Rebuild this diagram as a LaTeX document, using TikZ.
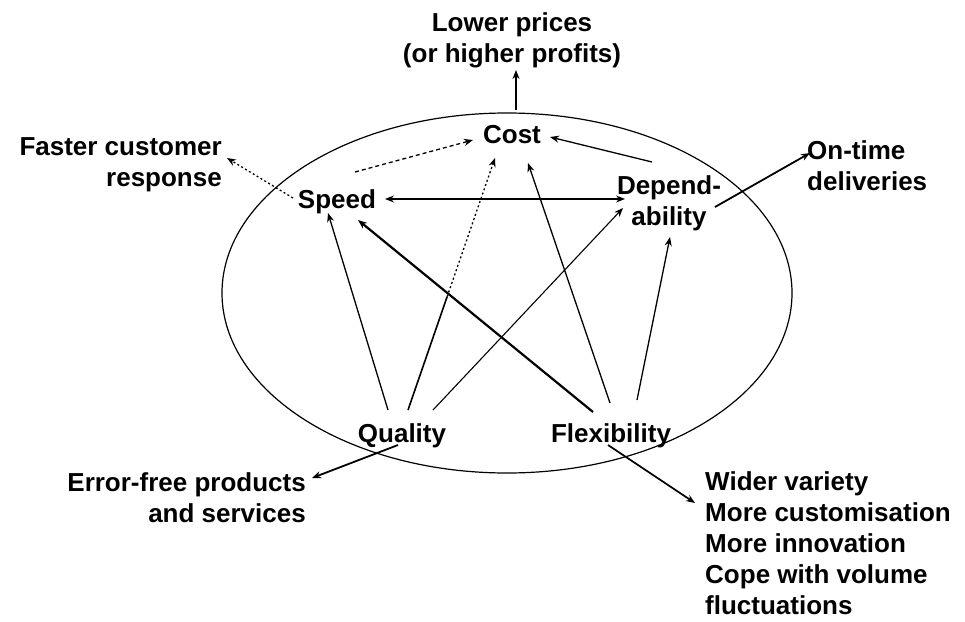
\documentclass[tikz,border=0pt]{standalone}
\usepackage{fontspec}
\setmainfont{Liberation Sans}
\usetikzlibrary{arrows.meta,calc}
\tikzset{
  lbl/.style={inner sep=0pt,font=\fontsize{26}{31}\selectfont\bfseries},
  ln/.style={line width=1.3pt},
  arr/.style={ln,-{Stealth[length=9pt,width=7pt]}},
  darr/.style={ln,{Stealth[length=9pt,width=7pt]}-{Stealth[length=9pt,width=7pt]}},
  dotarr/.style={arr,dash pattern=on 2pt off 2.5pt},
  thickarr/.style={arr,line width=2.2pt},
  medarr/.style={arr,line width=1.8pt}
}
\begin{document}
\begin{tikzpicture}[x=1pt,y=-1pt]
\useasboundingbox (0,0) rectangle (965,621);
\fill[white] (0,0) rectangle (965,621);
% ellipse
\draw[line width=1.2pt] (507,293) ellipse [x radius=285, y radius=180];
% nodes
\node[lbl,anchor=north,align=center] (low) at (512,12) {Lower prices\\(or higher profits)};
\node[lbl,anchor=base] (cost) at (512,143) {Cost};
\node[lbl,anchor=base] (spd) at (337,208) {Speed};
\node[lbl,anchor=north,align=center] (dep) at (669,175) {Depend-\\ability};
\node[lbl,anchor=north west,align=left] (ont) at (807,140) {On-time\\deliveries};
\node[lbl,anchor=north east,align=right] (fast) at (222,137) {Faster customer\\response};
\node[lbl,anchor=base] (qual) at (402,442) {Quality};
\node[lbl,anchor=base] (flex) at (611,442) {Flexibility};
\node[lbl,anchor=north east,align=right] (err) at (306,472) {Error-free products\\and services};
\node[lbl,anchor=north west,align=left] (lst) at (705,471)
  {Wider variety\\More customisation\\More innovation\\Cope with volume\\fluctuations};
% connectors
\draw[arr] ([shift={(4,-33)}]cost.base) -- ([shift={(4,58)}]low.north);
\draw[dotarr] ([shift={(-44,-10)}]spd.base) -- ([shift={(5,21)}]fast.north east);
\draw[arr,dash pattern=on 4pt off 3pt] ([shift={(18,-36)}]spd.base) -- ([shift={(-39,-3)}]cost.base);
\draw[arr] ([shift={(-17,-13)}]dep.north) -- ([shift={(38,-6)}]cost.base);
\draw[darr] ([shift={(48,-9)}]spd.base) -- ([shift={(-44,24)}]dep.north);
\draw[medarr] ([shift={(46,32)}]dep.north) -- ([shift={(3,13)}]ont.north west);
% quality
\draw[arr] ([shift={(-14,-32)}]qual.base) -- ([shift={(-9,5)}]spd.base);
\coordinate (qc0) at ([shift={(6,-32)}]qual.base);
\coordinate (qc2) at ([shift={(-17,15)}]cost.base);
\coordinate (qc1) at ($(qc0)!0.45!(qc2)$);
\draw[ln,line width=1.6pt] (qc0) -- (qc1);
\draw[dotarr] (qc1) -- (qc2);
\draw[arr,line width=1.1pt] ([shift={(31,-32)}]qual.base) -- ([shift={(-46,33)}]dep.north);
\draw[medarr] ([shift={(-4,3)}]qual.base) -- ([shift={(6,6)}]err.north east);
% flexibility
\draw[thickarr] ([shift={(-18,-30)}]flex.base) -- ([shift={(21,12)}]spd.base);
\draw[arr] ([shift={(-1,-39)}]flex.base) -- ([shift={(16,20)}]cost.base);
\draw[arr] ([shift={(26,-42)}]flex.base) -- ([shift={(1,62)}]dep.north);
\draw[medarr] ([shift={(-3,3)}]flex.base) -- ([shift={(-10,32)}]lst.north west);
\end{tikzpicture}
\end{document}
